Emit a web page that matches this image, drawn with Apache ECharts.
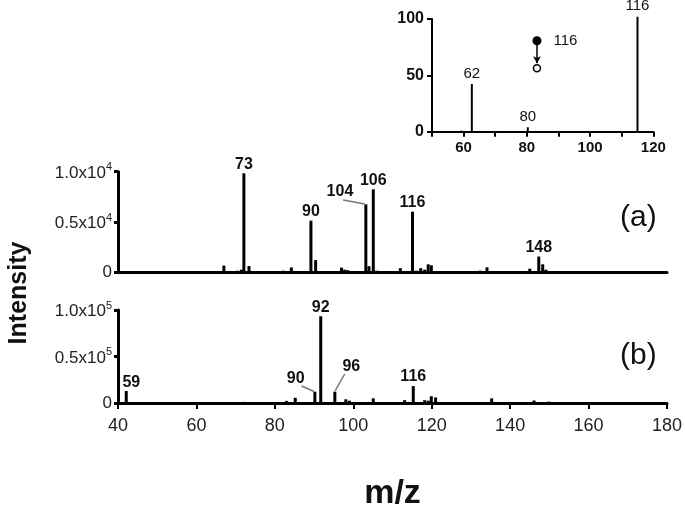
<!DOCTYPE html>
<html><head><meta charset="utf-8">
<script src="https://cdn.jsdelivr.net/npm/echarts@6/dist/echarts.min.js"></script>
<style>html,body{margin:0;padding:0;background:#fff}#c{width:685px;height:512px}</style>
</head><body><div id="c"></div>
<script>
// ---------- DATA ----------
// Inset (relative abundance)
const insetBars = [[59.3, 1], [62.6, 42.3], [71.3, 0.7], [80.3, 3.9], [115, 102]];
const insetBarLabels = [[62.6, '62'], [80.3, '80'], [115, '116']];
const insetPrecursor = [83.2, 80.7];
const insetProduct = [83.2, 56.3];
const insetPrecursorLabel = '116';
const insetXTickLabels = [60, 80, 100, 120];
const insetYTicks = [0, 50, 100];

// Panel (a)
const aBars = [[67.0,700],[68.5,100],[69.5,100],[70.5,200],[71.5,300],[72.1,9840],[73.4,660],[80.0,100],[82.1,200],[84.2,520],
  [89.2,5150],[90.4,1250],[91.2,100],[97.0,500],[97.8,300],[98.6,250],[99.3,150],[101.0,100],[103.2,6770],[104.0,650],[105.1,8260],[106.0,200],
  [112.0,450],[115.1,6040],[116.1,200],[117.2,450],[118.2,300],[119.1,830],[119.9,730],[129.3,150],[132.3,200],[134.1,530],[139.1,100],[141.2,100],
  [145.0,400],[147.3,1600],[148.3,830],[149.1,300],[152.7,100],[157.8,80],[161.2,80]];
const aTopLabels = [[72.1,'73'],[89.2,'90'],[105.1,'106'],[115.1,'116'],[147.3,'148']];
const aSideLabels = [[96.6, 8020, '104']];
const aLeaders = [[[97.4, 7200], [102.9, 6800]]];
const aYTicks = [0, 5000, 10000];
const aYTickLabels = ['0', '{n|0.5x10}{s|4}', '{n|1.0x10}{s|4}'];

// Panel (b)
const bBars = [[42.1,12900],[45.1,800],[68.9,600],[71.9,1200],[72.8,600],[83.0,2300],[85.2,5600],[90.2,12200],[91.7,93300],[95.3,12200],
  [98.1,4000],[99.0,2500],[100.0,1000],[105.1,5000],[107.0,500],[113.1,3000],[115.3,18200],[118.2,3000],[119.1,2500],[119.9,7300],[121.0,6000],
  [130.2,600],[133.1,800],[135.3,5000],[140.4,700],[142.5,600],[146.1,2700],[149.9,1500],[167.0,600]];
const bTopLabels = [[91.7,'92'],[115.3,'116']];
const bSideLabels = [[43.4, 22000, '59'], [85.3, 26510, '90'], [99.5, 39420, '96']];
const bLeaders = [[[86.8, 18270], [90.0, 12310]], [[95.4, 13300], [97.8, 31180]]];
const bYTicks = [0, 50000, 100000];
const bYTickLabels = ['0', '{n|0.5x10}{s|5}', '{n|1.0x10}{s|5}'];
const xTickLabels = [40, 60, 80, 100, 120, 140, 160, 180];

const panelTags = ['(a)', '(b)'];
const xTitle = 'm/z';
const yTitle = 'Intensity';

// ---------- CHART ----------
const FONT = 'Liberation Sans, Arial, Helvetica, sans-serif';
const INK = '#111';
const chart = echarts.init(document.getElementById('c'), null, {renderer: 'canvas'});

function barData(bars, labels, fontSize, bold, dist) {
  return bars.map(b => {
    const l = labels.find(x => x[0] === b[0]);
    const item = {value: b};
    if (l) item.label = {show: true, position: 'top', distance: dist, formatter: l[1],
      fontSize: fontSize, fontWeight: bold ? 'bold' : 'normal', color: INK, fontFamily: FONT};
    return item;
  });
}
function tickFmt(ticks, labels) {
  return v => { const i = ticks.indexOf(v); return i >= 0 ? labels[i] : ''; };
}
const mainYAxisCommon = {
  type: 'value', min: 0,
  axisLine: {show: true, lineStyle: {color: '#000', width: 3}},
  axisTick: {show: true, length: 4, lineStyle: {color: '#000', width: 3}},
  splitLine: {show: false},
  axisLabel: {fontSize: 17, color: '#222', fontFamily: FONT, margin: 6,
    rich: {
      n: {fontSize: 17, color: '#222', fontFamily: FONT, padding: [3, 0, 0, 0]},
      s: {fontSize: 11, color: '#222', fontFamily: FONT, verticalAlign: 'top'}
    }}
};

const option = {
  animation: false,
  backgroundColor: '#fff',
  grid: [
    {left: 432, top: 19, width: 221.3, height: 112.7},
    {left: 118, top: 171.7, width: 549, height: 101},
    {left: 118, top: 310, width: 549, height: 100.7}
  ],
  xAxis: [
    {gridIndex: 0, type: 'value', min: 50, max: 120, interval: 10,
      axisLine: {show: true, onZero: false, lineStyle: {color: '#000', width: 2}},
      axisTick: {show: true, length: 5, lineStyle: {color: '#000', width: 2}},
      splitLine: {show: false},
      axisLabel: {fontSize: 15, fontWeight: 'bold', color: '#111', fontFamily: FONT, margin: 9,
        formatter: v => insetXTickLabels.includes(v) ? String(v) : ''}},
    {gridIndex: 1, type: 'value', min: 40, max: 180, interval: 20,
      axisLine: {show: true, onZero: false, lineStyle: {color: '#000', width: 3}},
      axisTick: {show: false}, axisLabel: {show: false}, splitLine: {show: false}},
    {gridIndex: 2, type: 'value', min: 40, max: 180, interval: 20,
      axisLine: {show: true, onZero: false, lineStyle: {color: '#000', width: 3}},
      axisTick: {show: true, length: 6, lineStyle: {color: '#000', width: 2}},
      splitLine: {show: false},
      axisLabel: {fontSize: 18, color: '#222', fontFamily: FONT, margin: 14,
        formatter: v => xTickLabels.includes(v) ? String(v) : ''},
      name: xTitle, nameLocation: 'middle', nameGap: 74,
      nameTextStyle: {fontSize: 34, fontWeight: 'bold', color: '#111', fontFamily: FONT}}
  ],
  yAxis: [
    {gridIndex: 0, type: 'value', min: 0, max: 100, interval: 50,
      axisLine: {show: true, lineStyle: {color: '#000', width: 2}},
      axisTick: {show: true, length: 5, lineStyle: {color: '#000', width: 2}},
      splitLine: {show: false},
      axisLabel: {fontSize: 16, fontWeight: 'bold', color: '#111', fontFamily: FONT, margin: 8,
        formatter: v => insetYTicks.includes(v) ? String(v) : ''}},
    Object.assign({}, mainYAxisCommon, {gridIndex: 1, max: 10000, interval: 5000,
      axisLabel: Object.assign({}, mainYAxisCommon.axisLabel, {formatter: tickFmt(aYTicks, aYTickLabels)})}),
    Object.assign({}, mainYAxisCommon, {gridIndex: 2, max: 100000, interval: 50000,
      axisLabel: Object.assign({}, mainYAxisCommon.axisLabel, {formatter: tickFmt(bYTicks, bYTickLabels)})})
  ],
  series: [
    // inset bars
    {type: 'bar', xAxisIndex: 0, yAxisIndex: 0, barWidth: 2, clip: false,
      itemStyle: {color: '#000'}, data: barData(insetBars, insetBarLabels, 15, false, 3)},
    // inset precursor -> product
    {type: 'scatter', xAxisIndex: 0, yAxisIndex: 0, symbol: 'circle', symbolSize: 9,
      itemStyle: {color: '#000', opacity: 1},
      label: {show: true, position: 'right', distance: 12, formatter: insetPrecursorLabel,
        fontSize: 15, color: INK, fontFamily: FONT},
      data: [insetPrecursor],
      markLine: {silent: true, symbol: ['none', 'arrow'], symbolSize: [6, 7], animation: false,
        label: {show: false}, lineStyle: {color: '#000', width: 1.5, type: 'solid'},
        data: [[{coord: [insetPrecursor[0], insetPrecursor[1] - 3]}, {coord: [insetProduct[0], insetProduct[1] + 4.5]}]]}},
    {type: 'scatter', xAxisIndex: 0, yAxisIndex: 0, symbol: 'circle', symbolSize: 7,
      itemStyle: {color: '#fff', borderColor: '#000', borderWidth: 1.5, opacity: 1}, data: [insetProduct]},
    // panel a
    {type: 'bar', xAxisIndex: 1, yAxisIndex: 1, barWidth: 3, clip: false,
      itemStyle: {color: '#000'}, data: barData(aBars, aTopLabels, 16, true, 1)},
    {type: 'scatter', xAxisIndex: 1, yAxisIndex: 1, symbolSize: 0,
      itemStyle: {opacity: 1, color: '#000'},
      label: {show: true, position: 'inside', formatter: p => p.data[2],
        fontSize: 16, fontWeight: 'bold', color: INK, fontFamily: FONT},
      data: aSideLabels,
      markLine: {silent: true, symbol: 'none', animation: false, label: {show: false},
        lineStyle: {color: '#777', width: 1.5, type: 'solid', opacity: 1},
        data: aLeaders.map(l => [{coord: l[0]}, {coord: l[1]}])}},
    // panel b
    {type: 'bar', xAxisIndex: 2, yAxisIndex: 2, barWidth: 3, clip: false,
      itemStyle: {color: '#000'}, data: barData(bBars, bTopLabels, 16, true, 1)},
    {type: 'scatter', xAxisIndex: 2, yAxisIndex: 2, symbolSize: 0,
      itemStyle: {opacity: 1, color: '#000'},
      label: {show: true, position: 'inside', formatter: p => p.data[2],
        fontSize: 16, fontWeight: 'bold', color: INK, fontFamily: FONT},
      data: bSideLabels,
      markLine: {silent: true, symbol: 'none', animation: false, label: {show: false},
        lineStyle: {color: '#777', width: 1.5, type: 'solid', opacity: 1},
        data: bLeaders.map(l => [{coord: l[0]}, {coord: l[1]}])}}
  ],
  graphic: [
    {type: 'text', left: 620, top: 203, style: {text: panelTags[0], font: '30px ' + FONT, fill: INK}},
    {type: 'text', left: 620, top: 341, style: {text: panelTags[1], font: '30px ' + FONT, fill: INK}},
    {type: 'text', x: 19, y: 293, rotation: Math.PI / 2,
      style: {text: yTitle, font: 'bold 25px ' + FONT, fill: INK, align: 'center', verticalAlign: 'middle'}}
  ]
};
chart.setOption(option);
</script>
</body></html>
